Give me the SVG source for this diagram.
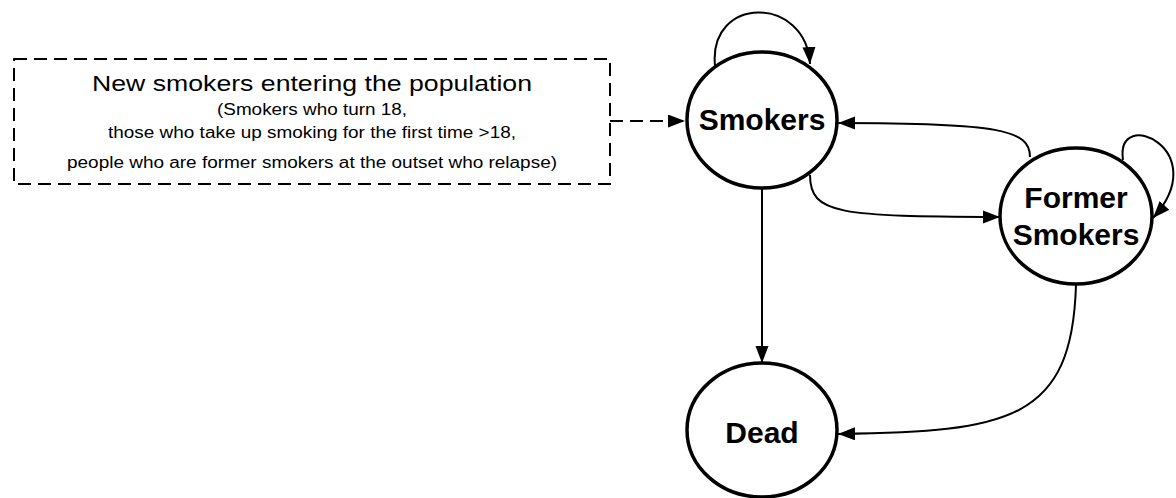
<svg xmlns="http://www.w3.org/2000/svg" width="1176" height="498" viewBox="0 0 1176 498">
<style>
.node{fill:#fff;stroke:#000;stroke-width:3.5}
.lbl{font-family:"Liberation Sans",Arial,sans-serif;font-weight:bold;font-size:30px;text-anchor:middle;fill:#000}
.edge{fill:none;stroke:#000;stroke-width:2}
.dash{fill:none;stroke:#000;stroke-width:2;stroke-dasharray:13 7}
.bt{font-family:"Liberation Sans",Arial,sans-serif;text-anchor:middle;fill:#000}
</style>
<defs>
<marker id="arr" markerUnits="userSpaceOnUse" markerWidth="18" markerHeight="14" refX="17" refY="6.5" orient="auto">
<path d="M0,0 L17,6.5 L0,13 Z" fill="#000"/>
</marker>
</defs>
<rect width="1176" height="498" fill="#fff"/>
<g id="connectors">
<path class="dash" d="M610,121 L685,121" marker-end="url(#arr)"/>
<path class="edge" d="M715,66 C708,-5 806,-5 810,64" marker-end="url(#arr)"/>
<path class="edge" d="M1030,157 C1030,130 1000,123 838,123" marker-end="url(#arr)"/>
<path class="edge" d="M810,175 C810,215 840,216 1000,217" marker-end="url(#arr)"/>
<path class="edge" d="M1123,160 C1115,105 1215,150 1153,218" marker-end="url(#arr)"/>
<path class="edge" d="M762,188 L762,363" marker-end="url(#arr)"/>
<path class="edge" d="M1076,285 C1072,420 1010,432 838,434" marker-end="url(#arr)"/>
</g>
<g id="new-smokers">
<rect x="14" y="59" width="596" height="125" class="dash"/>
<text class="bt" x="312" y="91" font-size="22" textLength="440" lengthAdjust="spacingAndGlyphs">New smokers entering the population</text>
<text class="bt" x="312" y="115" font-size="16" textLength="190" lengthAdjust="spacingAndGlyphs">(Smokers who turn 18,</text>
<text class="bt" x="312" y="138" font-size="16" textLength="408" lengthAdjust="spacingAndGlyphs">those who take up smoking for the first time &gt;18,</text>
<text class="bt" x="312" y="168" font-size="16" textLength="490" lengthAdjust="spacingAndGlyphs">people who are former smokers at the outset who relapse)</text>
</g>
<g id="smokers">
<ellipse class="node" cx="762" cy="120" rx="75" ry="68"/>
<text class="lbl" x="762" y="130">Smokers</text>
</g>
<g id="former-smokers">
<ellipse class="node" cx="1076" cy="216" rx="76" ry="68"/>
<text class="lbl" x="1076" y="208">Former</text>
<text class="lbl" x="1076" y="245">Smokers</text>
</g>
<g id="dead">
<ellipse class="node" cx="762" cy="430" rx="75" ry="67"/>
<text class="lbl" x="762" y="443">Dead</text>
</g>
</svg>
